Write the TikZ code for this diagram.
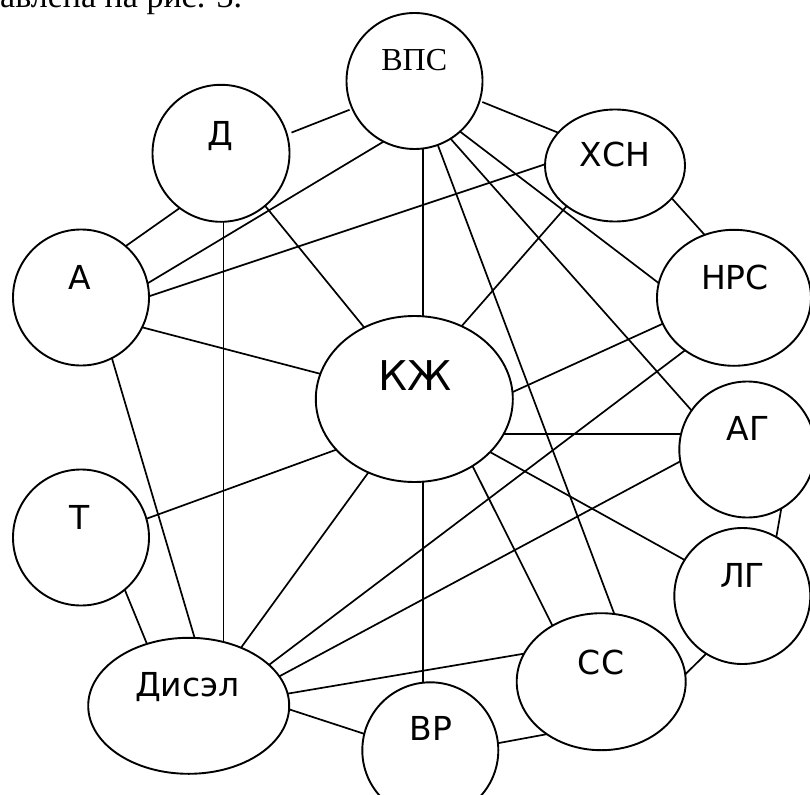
\documentclass[tikz,border=0pt]{standalone}
\usepackage{fontspec}
\setmainfont{Liberation Serif}
\newfontfamily\dvsans{DejaVu Sans}
\usetikzlibrary{shapes.geometric}
\begin{document}
\begin{tikzpicture}[x=1pt,y=-1pt,
  ell/.style={draw, ellipse, inner sep=0pt, outer sep=0pt, line width=1.9pt},
  con/.style={line width=1.7pt},
  lbl/.style={anchor=base, inner sep=0pt, font=\dvsans\fontsize{33}{33}\selectfont},
  lblbig/.style={anchor=base, inner sep=0pt, font=\dvsans\fontsize{41}{41}\selectfont},
  lblserif/.style={anchor=base, inner sep=0pt, font=\fontsize{32}{32}\selectfont}]
\useasboundingbox (0,0) rectangle (810,794);
\clip (0,0) rectangle (810,794);

% caption fragment at top
\node[anchor=base west, inner sep=0pt, font=\fontsize{34}{34}\selectfont] (cap) at (0,7.7) {авлена на рис. 3.};

% ellipses
\node[ell, minimum width=136pt, minimum height=136pt] (VPS) at (414.5,81) {};
\node[ell, minimum width=137pt, minimum height=137pt] (D)   at (221,153.3) {};
\node[ell, minimum width=136pt, minimum height=136pt] (A)   at (81,297.5) {};
\node[ell, minimum width=197pt, minimum height=166pt] (KZ)  at (414.3,399) {};
\node[ell, minimum width=140pt, minimum height=112pt] (XSN) at (615,165.5) {};
\node[ell, minimum width=154pt, minimum height=136pt] (NRS) at (734,297.8) {};
\node[ell, minimum width=136pt, minimum height=136pt] (AG)  at (747.3,449.5) {};
\node[ell, minimum width=136pt, minimum height=136pt] (LG)  at (742.3,596) {};
\node[ell, minimum width=169pt, minimum height=137pt] (SS)  at (601.2,681.7) {};
\node[ell, minimum width=136pt, minimum height=136pt] (VR)  at (430.3,750.3) {};
\node[ell, minimum width=201pt, minimum height=136pt] (DIS) at (188.7,705.8) {};
\node[ell, minimum width=136pt, minimum height=136pt] (T)   at (81,537.5) {};

% texts
\node[lblserif] (tVPS) at (414.2,71) {ВПС};
\node[lbl] (tD)   at (220.5,146) {Д};
\node[lbl] (tA)   at (80,289.3) {А};
\node[lbl] (tXSN) at (615,166.7) {ХСН};
\node[lbl] (tNRS) at (735,289.3) {НРС};
\node[lbl] (tAG)  at (748,440.7) {АГ};
\node[lbl] (tLG)  at (742.5,587.3) {ЛГ};
\node[lbl] (tSS)  at (601,674) {СС};
\node[lbl] (tVR)  at (431,740) {ВР};
\node[lbl] (tDIS) at (187.5,696.7) {Дисэл};
\node[lbl] (tT)   at (80,529.3) {Т};
\node[lblbig] (tKZ) at (415,390) {КЖ};

% connectors
\draw[con, shorten <=5pt, shorten >=3pt] (D.16) -- (VPS.204);
\draw[con] (D.233) -- (A.49);
\draw[con] (VPS.243) -- (A.12);
\draw[con] (XSN.179) -- (A.1);
\draw[con, shorten <=3pt] (VPS.-17) -- (XSN.150);
\draw[con] (VPS.-70) -- (SS.79);
\draw[con] (VPS.-58) -- (AG.145);
\draw[con] (VPS.-48) -- (NRS.169);
\draw[con] (XSN.-30) -- (NRS.115);
\draw[con] (XSN.220) -- (KZ.57);
\draw[con] (D.-50) -- (KZ.125);
\draw[con] (A.-26) -- (KZ.165);
\draw[con] (A.-63) -- (DIS.85);
\draw[con] (KZ.213) -- (T.16);
\draw[con] (T.-50) -- (DIS.124);
\draw[con] (KZ.238) -- (DIS.48);
\draw[con] (NRS.200) -- (KZ.4);
\draw[con] (NRS.227) -- (DIS.27);
\draw[con] (AG.190) -- (DIS.18);
\draw[con] (KZ.-35) -- (LG.148);
\draw[con] (KZ.-49) -- (SS.131);
\draw[con] (AG.-60) -- (LG.60);
\draw[con] (LG.238) -- (SS.5);
\draw[con] (SS.160) -- (DIS.7);
\draw[con] (SS.224) -- (VR.6);
\draw[con] (VR.166) -- (DIS.-2);
\draw[con] (VPS.277) -- (VPS.277 |- KZ.north);
\draw[con] (VR.96) -- (VR.96 |- KZ.south);
\draw[con] (D.272) -- (D.272 |- DIS.60);
\draw[con] (AG.167) -- (AG.167 -| KZ.-22);
\end{tikzpicture}
\end{document}
